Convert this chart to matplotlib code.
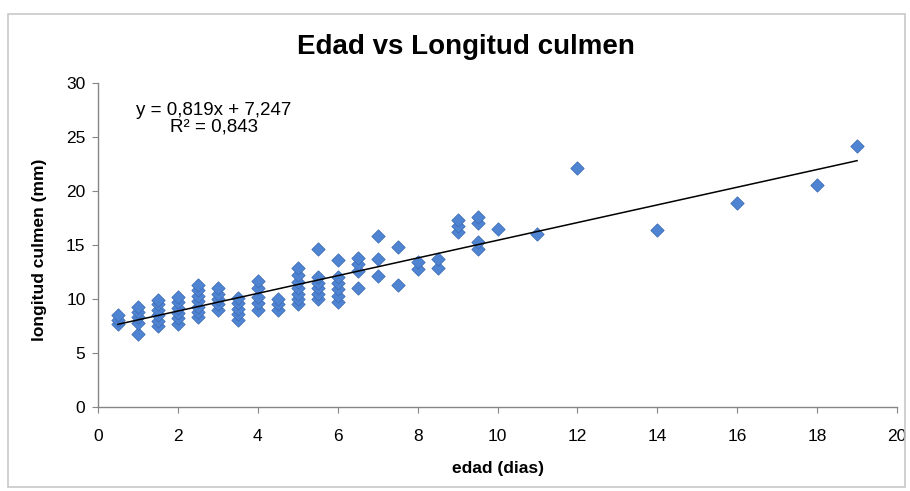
import numpy as np
import matplotlib.pyplot as plt
from matplotlib.patches import Rectangle

plt.rcParams['font.family'] = ['Liberation Sans', 'DejaVu Sans']

# Datos: edad (dias) y longitud culmen (mm), agrupados por edad
edad_grupos = [0.5, 1, 1.5, 2, 2.5, 3, 3.5, 4, 4.5, 5, 5.5, 6, 6.5, 7, 7.5,
               8, 8.5, 9, 9.5, 10, 11, 12, 14, 16, 18, 19]
culmen_grupos = [
    [7.7, 8.1, 8.5],
    [6.8, 7.8, 8.3, 8.8, 9.3],
    [7.5, 8.0, 8.5, 9.0, 9.5, 9.9],
    [7.7, 8.2, 8.7, 9.2, 9.7, 10.2],
    [8.3, 8.8, 9.3, 9.8, 10.3, 10.8, 11.3],
    [9.0, 9.5, 10.0, 10.5, 11.0],
    [8.1, 8.6, 9.1, 9.6, 10.1],
    [9.0, 9.6, 10.2, 11.0, 11.7],
    [9.0, 9.5, 10.0],
    [9.5, 10.0, 10.5, 11.0, 11.6, 12.2, 12.9],
    [10.0, 10.5, 11.0, 11.5, 12.0, 14.6],
    [9.7, 10.3, 10.9, 11.5, 12.0, 13.6],
    [11.0, 12.6, 13.2, 13.8],
    [12.1, 13.7, 15.8],
    [11.3, 14.8],
    [12.8, 13.4],
    [12.9, 13.7],
    [16.2, 16.8, 17.3],
    [14.6, 15.3, 17.0, 17.6],
    [16.5],
    [16.0],
    [22.1],
    [16.4],
    [18.9],
    [20.6],
    [24.2],
]

# Línea de tendencia (Excel)
pendiente = 0.819
intercepto = 7.247
r2 = 0.843

edad = np.concatenate([[e] * len(v) for e, v in zip(edad_grupos, culmen_grupos)])
culmen = np.concatenate(culmen_grupos)

W, H = 910, 491
fig = plt.figure(figsize=(W / 100, H / 100), dpi=100)
ax = fig.add_axes([98 / W, 1 - 407 / H, 799 / W, 324 / H])

# Marco exterior del gráfico
fig.patches.append(Rectangle((8 / W, 4 / H), 897 / W, 473 / H,
                             transform=fig.transFigure, fill=False,
                             edgecolor='#c8c8c8', linewidth=1.2))

ax.scatter(edad, culmen, marker='D', s=46, color='#4f84d2',
           edgecolors='#3f6fb8', linewidths=0.6, zorder=3)

xs = np.array([edad.min(), edad.max()])
ax.plot(xs, pendiente * xs + intercepto, color='black', linewidth=1.1, zorder=4)

ax.set_xlim(0, 20)
ax.set_ylim(0, 30)
ax.set_xticks(np.arange(0, 21, 2))
ax.set_yticks(np.arange(0, 31, 5))

for lado in ['top', 'right']:
    ax.spines[lado].set_visible(False)
for lado in ['left', 'bottom']:
    ax.spines[lado].set_color('#868686')
    ax.spines[lado].set_linewidth(1.0)
ax.tick_params(axis='both', direction='out', length=4, color='#868686',
               labelsize=12.5)
ax.tick_params(axis='y', pad=5)
ax.tick_params(axis='x', pad=12)

# Títulos
fig.text(466 / W, 1 - 47 / H, 'Edad vs Longitud culmen', fontsize=20,
         fontweight='bold', ha='center', va='center')
fig.text(498 / W, 1 - 468 / H, 'edad (dias)', fontsize=12.5,
         fontweight='bold', ha='center', va='center')
fig.text(40 / W, 1 - 250 / H, 'longitud culmen (mm)', fontsize=12.5,
         fontweight='bold', ha='center', va='center', rotation=90)

# Ecuación de la tendencia
fig.text(214 / W, 1 - 115 / H, 'y = 0,819x + 7,247', fontsize=13.5,
         ha='center', va='baseline')
fig.text(214 / W, 1 - 132 / H, 'R² = 0,843', fontsize=13.5,
         ha='center', va='baseline')

plt.savefig('out.png', dpi=100)
plt.close()
